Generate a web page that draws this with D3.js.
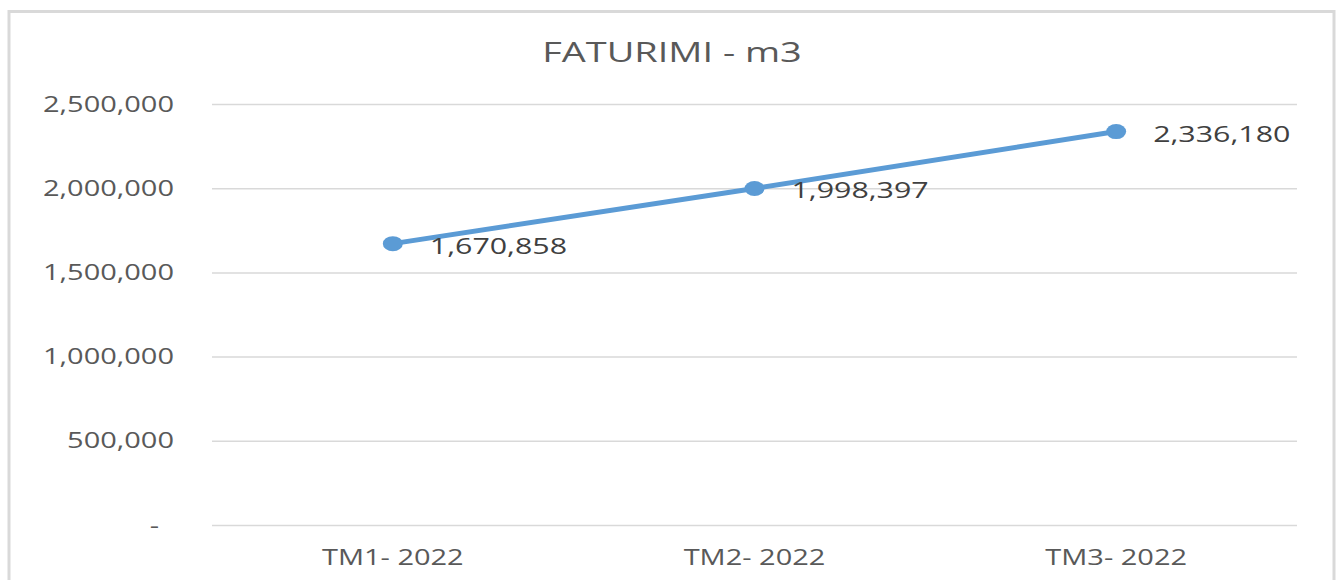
<!DOCTYPE html>
<html>
<head>
<meta charset="utf-8">
<script src="https://cdn.jsdelivr.net/npm/d3@7"></script>
<style>
  html, body { margin: 0; padding: 0; background: #fff; }
  svg { display: block; font-family: "Open Sans", sans-serif; }
</style>
</head>
<body>
<div id="chart"></div>
<script>
const TITLE = 'FATURIMI - m3'
const categories = ['TM1- 2022', 'TM2- 2022', 'TM3- 2022']
const values = [1670858, 1998397, 2336180]
const yTicks = [0, 500000, 1000000, 1500000, 2000000, 2500000]

const width = 1340, height = 580
// text in the picture is drawn wider than normal
const stretch = 1.38
const textColor = '#595959'
const lineColor = '#5b9bd5'

var svg = d3.select('#chart')
  .append('svg')
  .attr('width', width)
  .attr('height', height)

// outer chart frame (bottom edge is cut off)
svg.append('rect')
  .attr('x', 9)
  .attr('y', 11.5)
  .attr('width', 1325)
  .attr('height', 620)
  .attr('fill', '#fff')
  .attr('stroke', '#d9d9d9')
  .attr('stroke-width', 3)

var x = d3.scaleBand()
  .domain(categories)
  .range([212, 1297])

var y = d3.scaleLinear()
  .domain([0, 2500000])
  .range([525, 104])

var fmt = d3.format(',')

// y axis: gridlines + labels
var yAxis = d3.axisLeft(y)
  .tickValues(yTicks)
  .tickSize(-(1297 - 212))
  .tickFormat((d) => d === 0 ? '-' : fmt(d))

var gy = svg.append('g')
  .attr('transform', 'translate(212,0)')
  .call(yAxis)

gy.select('.domain').remove()
gy.selectAll('.tick line')
  .attr('stroke', '#d9d9d9')
  .attr('stroke-width', 1.5)
gy.selectAll('.tick text')
  .attr('x', 0)
  .attr('dy', '0.34em')
  .attr('fill', textColor)
  .style('font-size', '21px')
  .style('font-family', '"Open Sans", sans-serif')
  .attr('transform', (d) => 'translate(' + (d === 0 ? -53 : -38) + ',0) scale(' + stretch + ',1)')

// x axis labels
var xAxis = d3.axisBottom(x).tickSize(0)
var gx = svg.append('g')
  .attr('transform', 'translate(0,525)')
  .call(xAxis)

gx.select('.domain').remove()
gx.selectAll('.tick text')
  .attr('y', 0)
  .attr('dy', 0)
  .attr('fill', textColor)
  .style('font-size', '21px')
  .style('font-family', '"Open Sans", sans-serif')
  .attr('transform', 'translate(0,40) scale(' + stretch + ',1)')

// title
svg.append('text')
  .attr('transform', 'translate(672,62) scale(' + stretch + ',1)')
  .attr('text-anchor', 'middle')
  .attr('fill', textColor)
  .style('font-size', '27.5px')
  .text(TITLE)

var cx = (d, i) => x(categories[i]) + x.bandwidth() / 2

var line = d3.line()
  .x((d, i) => cx(d, i))
  .y((d) => y(d))

svg.append('path')
  .datum(values)
  .attr('d', line)
  .attr('fill', 'none')
  .attr('stroke', lineColor)
  .attr('stroke-width', 5)
  .attr('stroke-linecap', 'round')

svg.selectAll('.marker')
  .data(values)
  .enter()
  .append('ellipse')
  .attr('class', 'marker')
  .attr('cx', cx)
  .attr('cy', (d) => y(d))
  .attr('rx', 10)
  .attr('ry', 7.5)
  .attr('fill', lineColor)

svg.selectAll('.label')
  .data(values)
  .enter()
  .append('text')
  .attr('class', 'label')
  .attr('transform', (d, i) => 'translate(' + (cx(d, i) + 37) + ',' + (y(d) + 10) + ') scale(' + stretch + ',1)')
  .attr('fill', '#404040')
  .style('font-size', '22px')
  .text((d) => fmt(d))
</script>
</body>
</html>
